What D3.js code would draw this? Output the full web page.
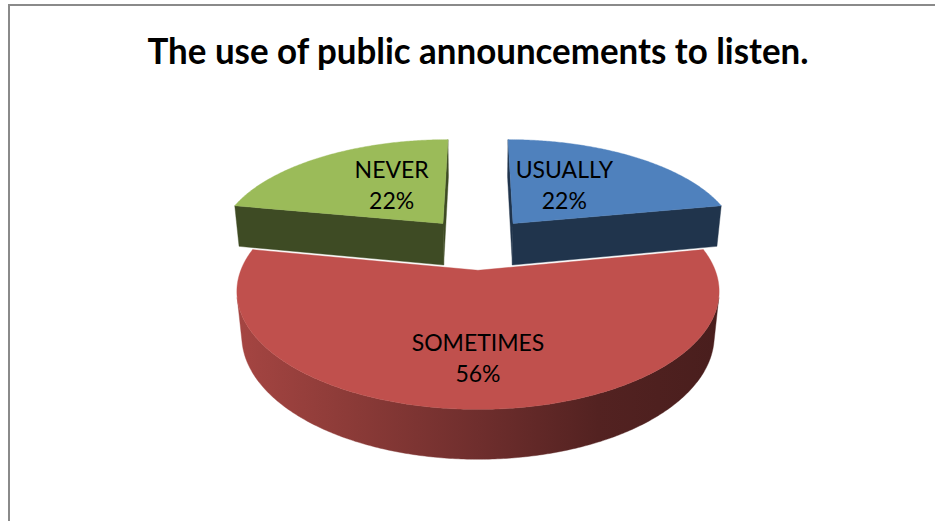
<!DOCTYPE html>
<html>
<head>
<meta charset="utf-8">
<script src="https://cdn.jsdelivr.net/npm/d3@7"></script>
<style>
  html, body { margin: 0; padding: 0; background: #fff; }
  svg { display: block; }
</style>
</head>
<body>
<svg id="chart" width="935" height="521"></svg>
<script>
// ---- data ----
const chartTitle = "The use of public announcements to listen.";
const categories = ["USUALLY", "SOMETIMES", "NEVER"];
const values = [22, 56, 22];
const colors = ["#4F81BD", "#C0504D", "#9BBB59"];

// ---- layout ----
const W = 935, H = 521;
const svg = d3.select("#chart");

// chart frame
svg.append("rect")
  .attr("x", 9).attr("y", 5)
  .attr("width", W + 40).attr("height", H + 40)
  .attr("fill", "#fff")
  .attr("stroke", "#8a8a8a").attr("stroke-width", 2);

// title
svg.append("text")
  .attr("x", 478).attr("y", 64)
  .attr("text-anchor", "middle")
  .attr("font-family", "Lato, 'Open Sans', sans-serif")
  .attr("font-weight", "bold")
  .attr("font-size", 36)
  .attr("textLength", 661)
  .attr("lengthAdjust", "spacingAndGlyphs")
  .attr("fill", "#000")
  .text(chartTitle);

// ---- 3D projection ----
const cx = 478, cy = 243, S = 227;
const elev = 27.4 * Math.PI / 180;
const sn = Math.sin(elev), cs = Math.cos(elev);
const Dcam = 5.16;
const explode = 0.25;
const depth = 0.215;
const cam = [0, Dcam * sn, Dcam * cs];

function proj(p) {
  const [X, Y, Z] = p;
  const yd = Z * sn - Y * cs;
  const d = Z * cs + Y * sn;
  const f = Dcam / (Dcam - d);
  return [cx + S * X * f, cy + S * yd * f];
}
function visible(n, p) {
  return n[0] * (cam[0] - p[0]) + n[1] * (cam[1] - p[1]) + n[2] * (cam[2] - p[2]) > 0;
}
const total = d3.sum(values);
const arcs = d3.pie().sort(null).value(d => d)(values);

const line = d3.line().curve(d3.curveLinearClosed);
const defs = svg.append("defs");
const pieG = svg.append("g");

const slices = arcs.map((a, i) => {
  const mid = (a.startAngle + a.endAngle) / 2;
  const ox = explode * Math.sin(mid), oz = -explode * Math.cos(mid);
  return { a, i, mid, ox, oz };
});
slices.sort((p, q) => p.oz - q.oz);

function shade(col, k) {
  const c = d3.rgb(col);
  return d3.rgb(c.r * k, c.g * k, c.b * k).formatHex();
}

slices.forEach(s => {
  const { a, i, ox, oz } = s;
  const pt = (th, r, Y) => [ox + r * Math.sin(th), Y, oz - r * Math.cos(th)];
  const g = pieG.append("g");
  const faces = [];
  const n = Math.max(8, Math.ceil((a.endAngle - a.startAngle) / 0.01));
  const ths = d3.range(n + 1).map(k => a.startAngle + (a.endAngle - a.startAngle) * k / n);

  // radial cut faces
  [[a.startAngle, -1], [a.endAngle, 1]].forEach(([th, sg]) => {
    const nrm = [sg * Math.cos(th), 0, sg * Math.sin(th)];
    const c = pt(th, 0.5, -depth / 2);
    if (visible(nrm, c)) {
      const poly = [pt(th, 0, 0), pt(th, 1, 0), pt(th, 1, -depth), pt(th, 0, -depth)];
      faces.push({ depth: c[2] * cs + c[1] * sn, poly, fill: shade(colors[i], 0.40) });
    }
  });

  // outer wall: group consecutive visible segments
  let runs = [], cur = null;
  for (let k = 0; k < n; k++) {
    const tm = (ths[k] + ths[k + 1]) / 2;
    const nrm = [Math.sin(tm), 0, -Math.cos(tm)];
    const vis = visible(nrm, pt(tm, 1, -depth / 2));
    if (vis) {
      if (!cur) { cur = [k]; runs.push(cur); }
      cur[1] = k + 1;
    } else cur = null;
  }
  runs.forEach(([k0, k1]) => {
    const topPts = d3.range(k0, k1 + 1).map(k => pt(ths[k], 1, 0));
    const botPts = d3.range(k1, k0 - 1, -1).map(k => pt(ths[k], 1, -depth));
    const poly = topPts.concat(botPts);
    const c = pt((ths[k0] + ths[k1]) / 2, 1, -depth / 2);
    faces.push({ depth: c[2] * cs + c[1] * sn, poly, wall: true });
  });

  faces.sort((p, q) => p.depth - q.depth);
  faces.forEach(fc => {
    const pts2 = fc.poly.map(proj);
    let fill = fc.fill;
    if (fc.wall) {
      const xs = pts2.map(p => p[0]);
      const gid = "wallGrad" + i + "_" + Math.round(d3.min(xs));
      const grad = defs.append("linearGradient").attr("id", gid)
        .attr("gradientUnits", "userSpaceOnUse")
        .attr("x1", d3.min(xs)).attr("x2", d3.max(xs)).attr("y1", 0).attr("y2", 0);
      [[0, 0.86], [0.25, 0.72], [0.5, 0.58], [0.75, 0.43], [1, 0.38]].forEach(([o, k]) => {
        grad.append("stop").attr("offset", o).attr("stop-color", shade(colors[i], k));
      });
      fill = `url(#${gid})`;
    }
    g.append("path").attr("d", line(pts2)).attr("fill", fill)
      .attr("stroke", fill).attr("stroke-width", 0.4);
  });

  // top face
  const topPoly = [pt(0, 0, 0)].concat(ths.map(th => pt(th, 1, 0))).map(proj);
  g.append("path").attr("d", line(topPoly)).attr("fill", colors[i])
    .attr("stroke", colors[i]).attr("stroke-width", 0.4);
});

// labels
arcs.forEach((a, i) => {
  const share = a.value / total;
  const mid = (a.startAngle + a.endAngle) / 2;
  const ox = explode * Math.sin(mid), oz = -explode * Math.cos(mid);
  const la = Math.PI + 1.07 * (mid - Math.PI);
  const r = 0.45 + 0.37 * share;
  const [px, py] = proj([ox + r * Math.sin(la), 0, oz - r * Math.cos(la)]);
  const t = svg.append("text")
    .attr("text-anchor", "middle")
    .attr("font-family", "Lato, 'Open Sans', sans-serif")
    .attr("font-size", 23)
    .attr("fill", "#000");
  t.append("tspan").attr("x", px).attr("y", py - 4).text(categories[i]);
  t.append("tspan").attr("x", px).attr("y", py + 27).text(Math.round(share * 100) + "%");
});
</script>
</body>
</html>
